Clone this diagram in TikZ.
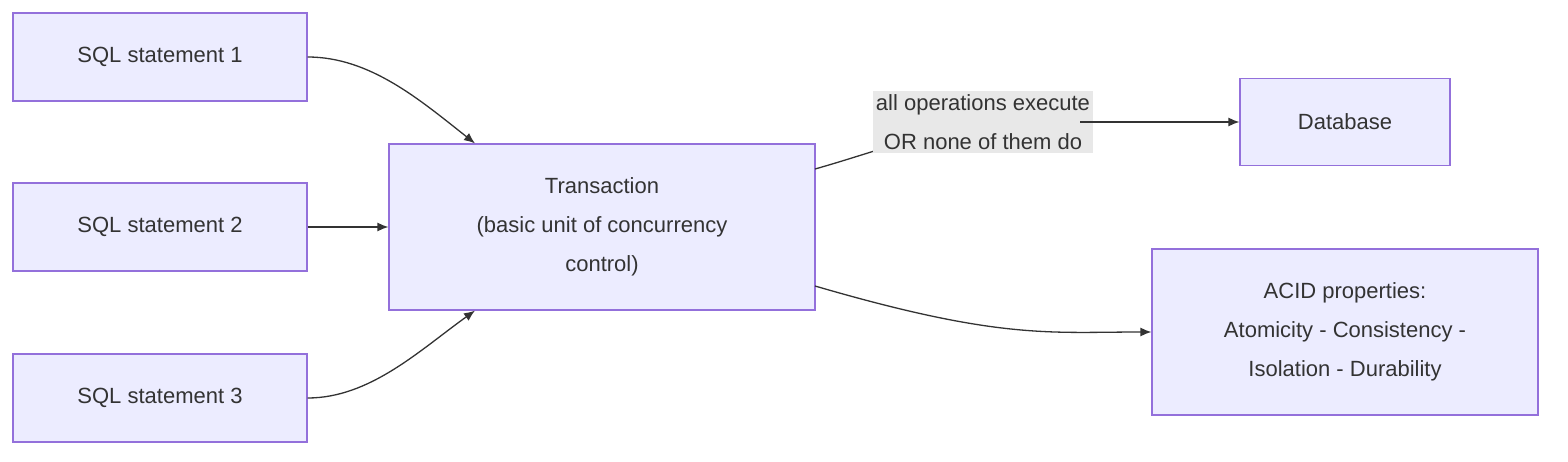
\documentclass[tikz,border=0pt]{standalone}
\usepackage{fontspec}
\setmainfont{Liberation Sans}
\usetikzlibrary{arrows.meta,positioning}
\definecolor{boxfill}{HTML}{ECECFF}
\definecolor{boxline}{HTML}{9370DB}
\definecolor{ink}{HTML}{333333}
\tikzset{
  box/.style={draw=boxline, fill=boxfill, line width=1.2pt, text=ink, align=center,
    inner sep=0pt, font=\fontsize{22}{39}\selectfont},
  link/.style={draw=ink, line width=1.3pt, -{Latex[length=11pt,width=9pt]}},
  tag/.style={fill=gray!18, text=ink, align=center, inner sep=3pt, font=\fontsize{22}{39}\selectfont}
}
\begin{document}
\begin{tikzpicture}[x=1pt,y=-1pt]
  \useasboundingbox (0,0) rectangle (1568,462);

  \node[box, minimum width=294pt, minimum height=88pt] (sql1) at (160,57) {SQL statement 1};
  \node[box, minimum width=294pt, minimum height=88pt] (sql2) at (160,227) {SQL statement 2};
  \node[box, minimum width=294pt, minimum height=88pt] (sql3) at (160,398) {SQL statement 3};
  \node[box, minimum width=426pt, minimum height=166pt] (trans) at (602,227)
    {Transaction\\(basic unit of concurrency\\control)};
  \node[box, minimum width=210pt, minimum height=87pt] (db) at (1345,122) {Database};
  \node[box, minimum width=386pt, minimum height=166pt] (acid) at (1345,332)
    {ACID properties:\\Atomicity - Consistency -\\Isolation - Durability};

  \draw[link] (sql1.east) .. controls (370,57) and (420,100) .. (trans.north -| 475,0);
  \draw[link] (sql2.east) -- (trans.west);
  \draw[link] (sql3.east) .. controls (370,398) and (420,350) .. (trans.south -| 475,0);
  \coordinate (t1) at (815,169);
  \coordinate (t2) at (815,286);
  \draw[ink, line width=1.3pt] (t1) .. controls (900,145) and (940,122) .. (1080,122);
  \node[tag] (lbl) at (983,122) {all operations execute\\OR none of them do};
  \draw[link] (1080,122) coordinate (m) -- (db.west);
  \draw[link] (t2) .. controls (1000,340) and (1050,332) .. (acid.west);
\end{tikzpicture}
\end{document}
